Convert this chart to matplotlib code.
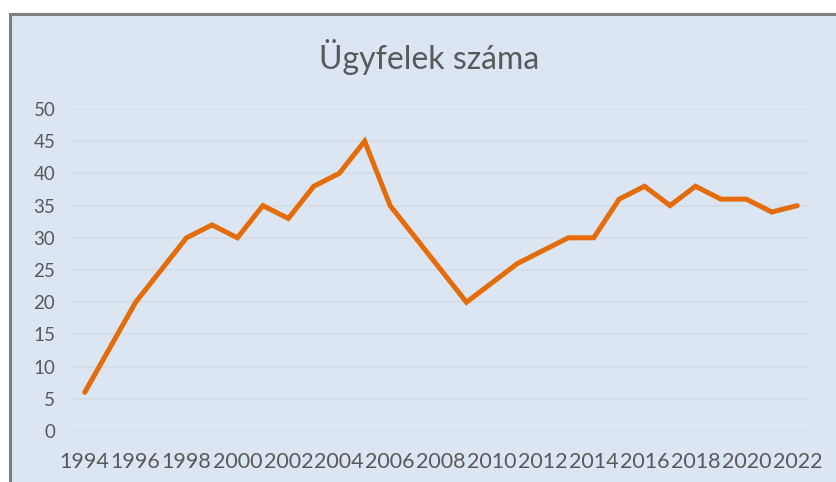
import matplotlib
matplotlib.use("Agg")
from matplotlib import patches as patches
from matplotlib import pyplot as plt

years = list(range(1994, 2023))
clients = [6, 13, 20, 25, 30, 32, 30, 35, 33, 38, 40, 45, 35, 30, 25, 20,
           23, 26, 28, 30, 30, 36, 38, 35, 38, 36, 36, 34, 35]
y_ticks = [0, 5, 10, 15, 20, 25, 30, 35, 40, 45, 50]
title = "Ügyfelek száma"

bg = "#dce6f2"
text_color = "#595959"
plt.rcParams["font.family"] = ["Lato", "DejaVu Sans"]

W, H = 837, 482
fig = plt.figure(figsize=(W / 100, H / 100), dpi=100)
fig.patch.set_facecolor("white")

# chart frame (cropped on the right and bottom)
fig.add_artist(
    patches.Rectangle(
        (10.5 / W, -0.05),
        (W - 10.5) / W + 0.05,
        1.05 - 14 / H,
        transform=fig.transFigure,
        facecolor=bg,
        edgecolor="#7f7f7f",
        linewidth=2.2,
        zorder=-10,
    )
)

ax = fig.add_axes([72 / W, (H - 431) / H, (810 - 72) / W, (431 - 109) / H])
ax.set_facecolor("none")
x = list(range(len(years)))
ax.plot(x, clients, color="#e46c0a", linewidth=3.6, solid_joinstyle="miter",
        solid_capstyle="round", zorder=3)

ax.set_xlim(-0.5, len(years) - 0.5)
ax.set_ylim(0, 50)
ax.set_yticks(y_ticks)
ax.set_yticklabels([str(v) for v in y_ticks])
ax.set_xticks(x[::2])
ax.set_xticklabels([str(y) for y in years[::2]])
ax.grid(axis="y", color="#d4dbe3", linewidth=1.1)
ax.set_axisbelow(True)
for s in ax.spines.values():
    s.set_visible(False)
ax.tick_params(axis="both", length=0, colors=text_color)
ax.tick_params(axis="y", labelsize=13.5, pad=12)
ax.tick_params(axis="x", labelsize=15.5, pad=15)

fig.text(429 / W, 1 - 57 / H, title, ha="center", va="center",
         fontsize=23, color=text_color)

fig.savefig("out.png", dpi=100)
